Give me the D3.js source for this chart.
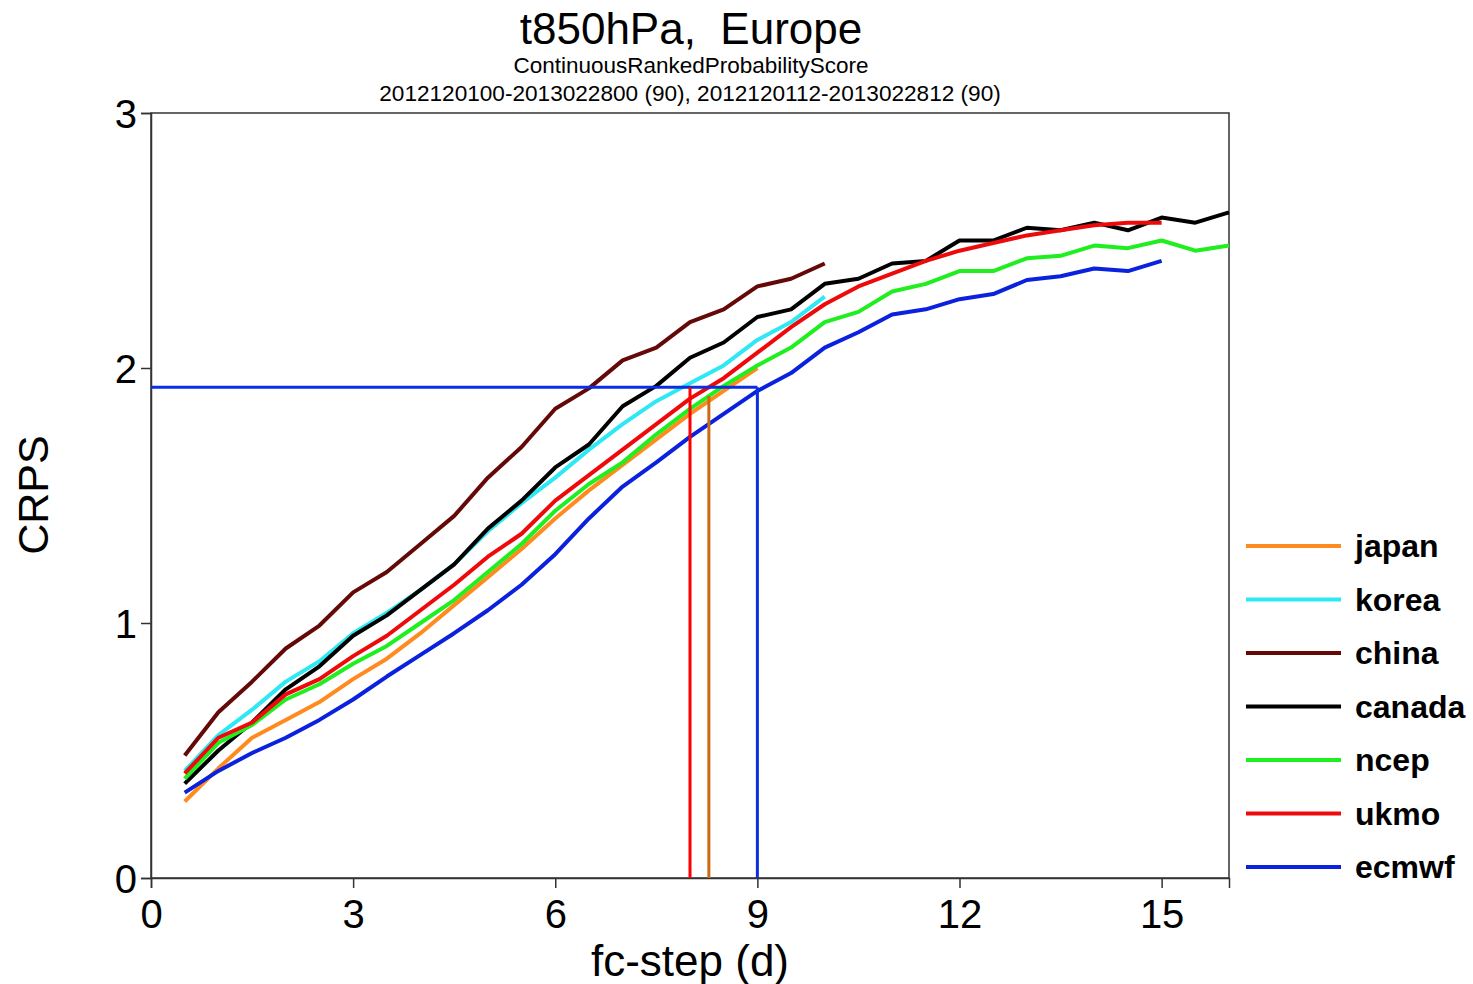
<!DOCTYPE html>
<html><head><meta charset="utf-8">
<script src="https://cdn.jsdelivr.net/npm/d3@7"></script>
<style>html,body{margin:0;padding:0;background:#fff;}svg{display:block;font-family:"Liberation Sans",Arial,sans-serif;}</style>
</head><body><svg id="c" width="1473" height="984"></svg>
<script>
const steps = d3.range(0.5, 16.01, 0.5);
const japan  = [0.30,0.43,0.55,0.62,0.69,0.78,0.86,0.96,1.07,1.18,1.29,1.41,1.52,1.62,1.72,1.82,1.91,2.00];
const korea  = [0.42,0.56,0.66,0.77,0.85,0.96,1.04,1.13,1.23,1.36,1.47,1.57,1.68,1.78,1.87,1.94,2.01,2.11,2.18,2.28];
const china  = [0.48,0.65,0.77,0.90,0.99,1.12,1.20,1.31,1.42,1.57,1.69,1.84,1.92,2.03,2.08,2.18,2.23,2.32,2.35,2.41];
const canada = [0.37,0.50,0.61,0.74,0.83,0.95,1.03,1.13,1.23,1.37,1.48,1.61,1.70,1.85,1.93,2.04,2.10,2.20,2.23,2.33,2.35,2.41,2.42,2.50,2.50,2.55,2.54,2.57,2.54,2.59,2.57,2.61];
const ncep   = [0.39,0.53,0.60,0.70,0.76,0.84,0.91,1.00,1.09,1.20,1.31,1.44,1.545,1.63,1.74,1.84,1.93,2.01,2.08,2.18,2.22,2.30,2.33,2.38,2.38,2.43,2.44,2.48,2.47,2.50,2.46,2.48];
const ukmo   = [0.41,0.55,0.61,0.72,0.78,0.87,0.95,1.05,1.15,1.26,1.35,1.48,1.58,1.68,1.78,1.88,1.96,2.06,2.16,2.25,2.32,2.37,2.42,2.46,2.49,2.52,2.54,2.56,2.57,2.57];
const ecmwf  = [0.335,0.42,0.49,0.55,0.62,0.70,0.79,0.875,0.96,1.05,1.15,1.27,1.41,1.535,1.63,1.73,1.82,1.91,1.98,2.08,2.14,2.21,2.23,2.27,2.29,2.345,2.36,2.39,2.38,2.42];
const seriesNames = ["japan","korea","china","canada","ncep","ukmo","ecmwf"];
const seriesValues = [japan,korea,china,canada,ncep,ukmo,ecmwf];
const seriesColors = ["#ff8a1e","#2ee8f4","#650808","#000000","#1fee1f","#ee0a0a","#0a22dd"];
const xTicks = [0,3,6,9,12,15];
const yTicks = [0,1,2,3];
const refLevel = 1.925;
const markerDays = [8.0, 8.28, 9.0];
const markerTops = [1.925, 1.89, 1.925];
const markerColors = ["#ff0000","#cc6a10","#0a2ee0"];

const svg = d3.select("#c");
const L = 151, R = 1229, T = 113, B = 878;
const x = d3.scaleLinear().domain([0,16]).range([L,R]);
const y = d3.scaleLinear().domain([0,3]).range([B,T]);

// titles
svg.append("text").attr("x",691).attr("y",44).attr("text-anchor","middle").attr("font-size",44)
  .style("white-space","pre").text("t850hPa,  Europe");
svg.append("text").attr("x",691).attr("y",73).attr("text-anchor","middle").attr("font-size",22.5).text("ContinuousRankedProbabilityScore");
svg.append("text").attr("x",690).attr("y",101).attr("text-anchor","middle").attr("font-size",22.6).text("2012120100-2013022800 (90), 2012120112-2013022812 (90)");

// frame
svg.append("rect").attr("x",L).attr("y",T).attr("width",R-L).attr("height",B-T).attr("fill","none").attr("stroke","#333").attr("stroke-width",1.5);

const xa = svg.append("g").attr("transform",`translate(0,${B})`)
  .call(d3.axisBottom(x).tickValues(xTicks).tickFormat(d3.format("d")).tickSize(10).tickPadding(12));
const ya = svg.append("g").attr("transform",`translate(${L},0)`)
  .call(d3.axisLeft(y).tickValues(yTicks).tickFormat(d3.format("d")).tickSize(10).tickPadding(4));
[xa,ya].forEach(g=>{
  g.select(".domain").attr("stroke","#333").attr("stroke-width",1.5);
  g.selectAll(".tick line").attr("stroke","#333").attr("stroke-width",1.5);
  g.selectAll(".tick text").attr("font-size",40).attr("fill","#000").attr("font-family","Liberation Sans, Arial, sans-serif");
});
ya.selectAll(".tick text").attr("dy","0.36em");

svg.append("text").attr("x",690).attr("y",976).attr("text-anchor","middle").attr("font-size",44).text("fc-step (d)");
svg.append("text").attr("transform","translate(48,495) rotate(-90)").attr("text-anchor","middle").attr("font-size",43).text("CRPS");

// series
const line = d3.line().x((d,i)=>x(steps[i])).y(d=>y(d));
seriesValues.forEach((vals,k)=>{
  svg.append("path").datum(vals).attr("d",line).attr("fill","none")
    .attr("stroke",seriesColors[k]).attr("stroke-width",4).attr("stroke-linejoin","round");
});

// reference markers
svg.append("line").attr("x1",x(0)).attr("x2",x(markerDays[2])).attr("y1",y(refLevel)).attr("y2",y(refLevel))
  .attr("stroke",markerColors[2]).attr("stroke-width",3);
markerDays.forEach((d,i)=>{
  svg.append("line").attr("x1",x(d)).attr("x2",x(d)).attr("y1",y(0)).attr("y2",y(markerTops[i]))
    .attr("stroke",markerColors[i]).attr("stroke-width",3);
});

// legend
const lg = svg.append("g");
seriesNames.forEach((n,i)=>{
  const yy = 546 + i*53.5;
  lg.append("line").attr("x1",1246).attr("x2",1341).attr("y1",yy).attr("y2",yy).attr("stroke",seriesColors[i]).attr("stroke-width",4);
  lg.append("text").attr("x",1355).attr("y",yy+11).attr("font-size",32).attr("font-weight","bold").text(n);
});
</script></body></html>
